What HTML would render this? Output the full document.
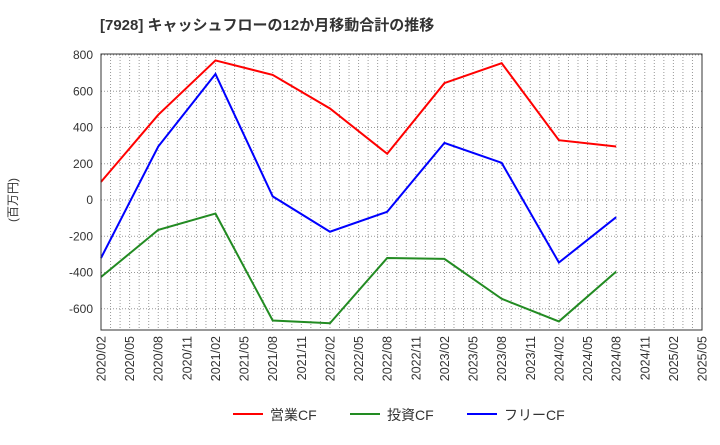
<!DOCTYPE html>
<html><head><meta charset="utf-8"><style>
body{margin:0;background:#fff;font-family:"Liberation Sans","Noto Sans CJK JP",sans-serif}
</style></head><body>
<svg id="c" width="720" height="440" xmlns="http://www.w3.org/2000/svg" font-family="Liberation Sans, Noto Sans CJK JP, sans-serif">
<text x="100" y="30" font-size="15" font-weight="bold" fill="#333">[7928]  キャッシュフローの12か月移動合計の推移</text>
<text transform="translate(17,200) rotate(-90)" text-anchor="middle" font-size="12" fill="#333">(百万円)</text>
<g id="grid"></g><g id="series"></g><g id="axes"></g>
<g>
<line x1="233" y1="414" x2="263" y2="414" stroke="#f00" stroke-width="2"/><text x="270" y="420" font-size="14" fill="#333">営業CF</text>
<line x1="350" y1="414" x2="380" y2="414" stroke="#228b22" stroke-width="2"/><text x="387" y="420" font-size="14" fill="#333">投資CF</text>
<line x1="467" y1="414" x2="497" y2="414" stroke="#00f" stroke-width="2"/><text x="504" y="420" font-size="14" fill="#333">フリーCF</text>
</g>
</svg>
<script>
const xLabels=["2020/02","2020/05","2020/08","2020/11","2021/02","2021/05","2021/08","2021/11","2022/02","2022/05","2022/08","2022/11","2023/02","2023/05","2023/08","2023/11","2024/02","2024/05","2024/08","2024/11","2025/02","2025/05"];
const yTicks=[-600,-400,-200,0,200,400,600,800];
const pointMonths=[0,6,12,18,24,30,36,42,48,54];
const operatingCF=[100,470,770,690,505,255,645,755,330,295];
const investingCF=[-425,-165,-75,-665,-680,-320,-325,-545,-670,-395];
const freeCF=[-320,295,695,20,-175,-65,315,205,-345,-95];
const L=101,R=702,T=54,B=330,months=63;
const x=m=>L+(R-L)*m/months;
const y=v=>200-v*0.18125;
const ns="http://www.w3.org/2000/svg";
function mk(t,a,p){const e=document.createElementNS(ns,t);for(const k in a)e.setAttribute(k,a[k]);p.appendChild(e);return e;}
const g=document.getElementById('grid'),ax=document.getElementById('axes'),s=document.getElementById('series');
for(let m=1;m<months;m++){const l=mk('line',{x1:x(m),x2:x(m),y1:T,y2:B,stroke:'#999','stroke-dasharray':'1,2'},g);

}
yTicks.forEach(v=>{const l=mk('line',{x1:L,x2:R,y1:y(v),y2:y(v),stroke:'#999','stroke-dasharray':'1,2'},g);


const t=mk('text',{x:L-8,y:y(v)+4,'text-anchor':'end','font-size':12,fill:'#333'},ax);t.textContent=v;

});
const f=mk('rect',{x:L,y:T,width:R-L,height:B-T,fill:'none',stroke:'#333'},ax);


xLabels.forEach((lb,i)=>{const xx=x(i*3);const t=mk('text',{transform:`translate(${xx+4.5},${B+6}) rotate(-90)`,'text-anchor':'end','font-size':12.5,fill:'#333'},ax);t.textContent=lb;

});
[[operatingCF,'#f00','operating-cf-line'],[investingCF,'#228b22','investing-cf-line'],[freeCF,'#00f','free-cf-line']].forEach(([d,c,n])=>{
const p=mk('polyline',{points:d.map((v,i)=>x(pointMonths[i])+','+y(v)).join(' '),fill:'none',stroke:c,'stroke-width':2},s);

});
</script>
</body></html>
